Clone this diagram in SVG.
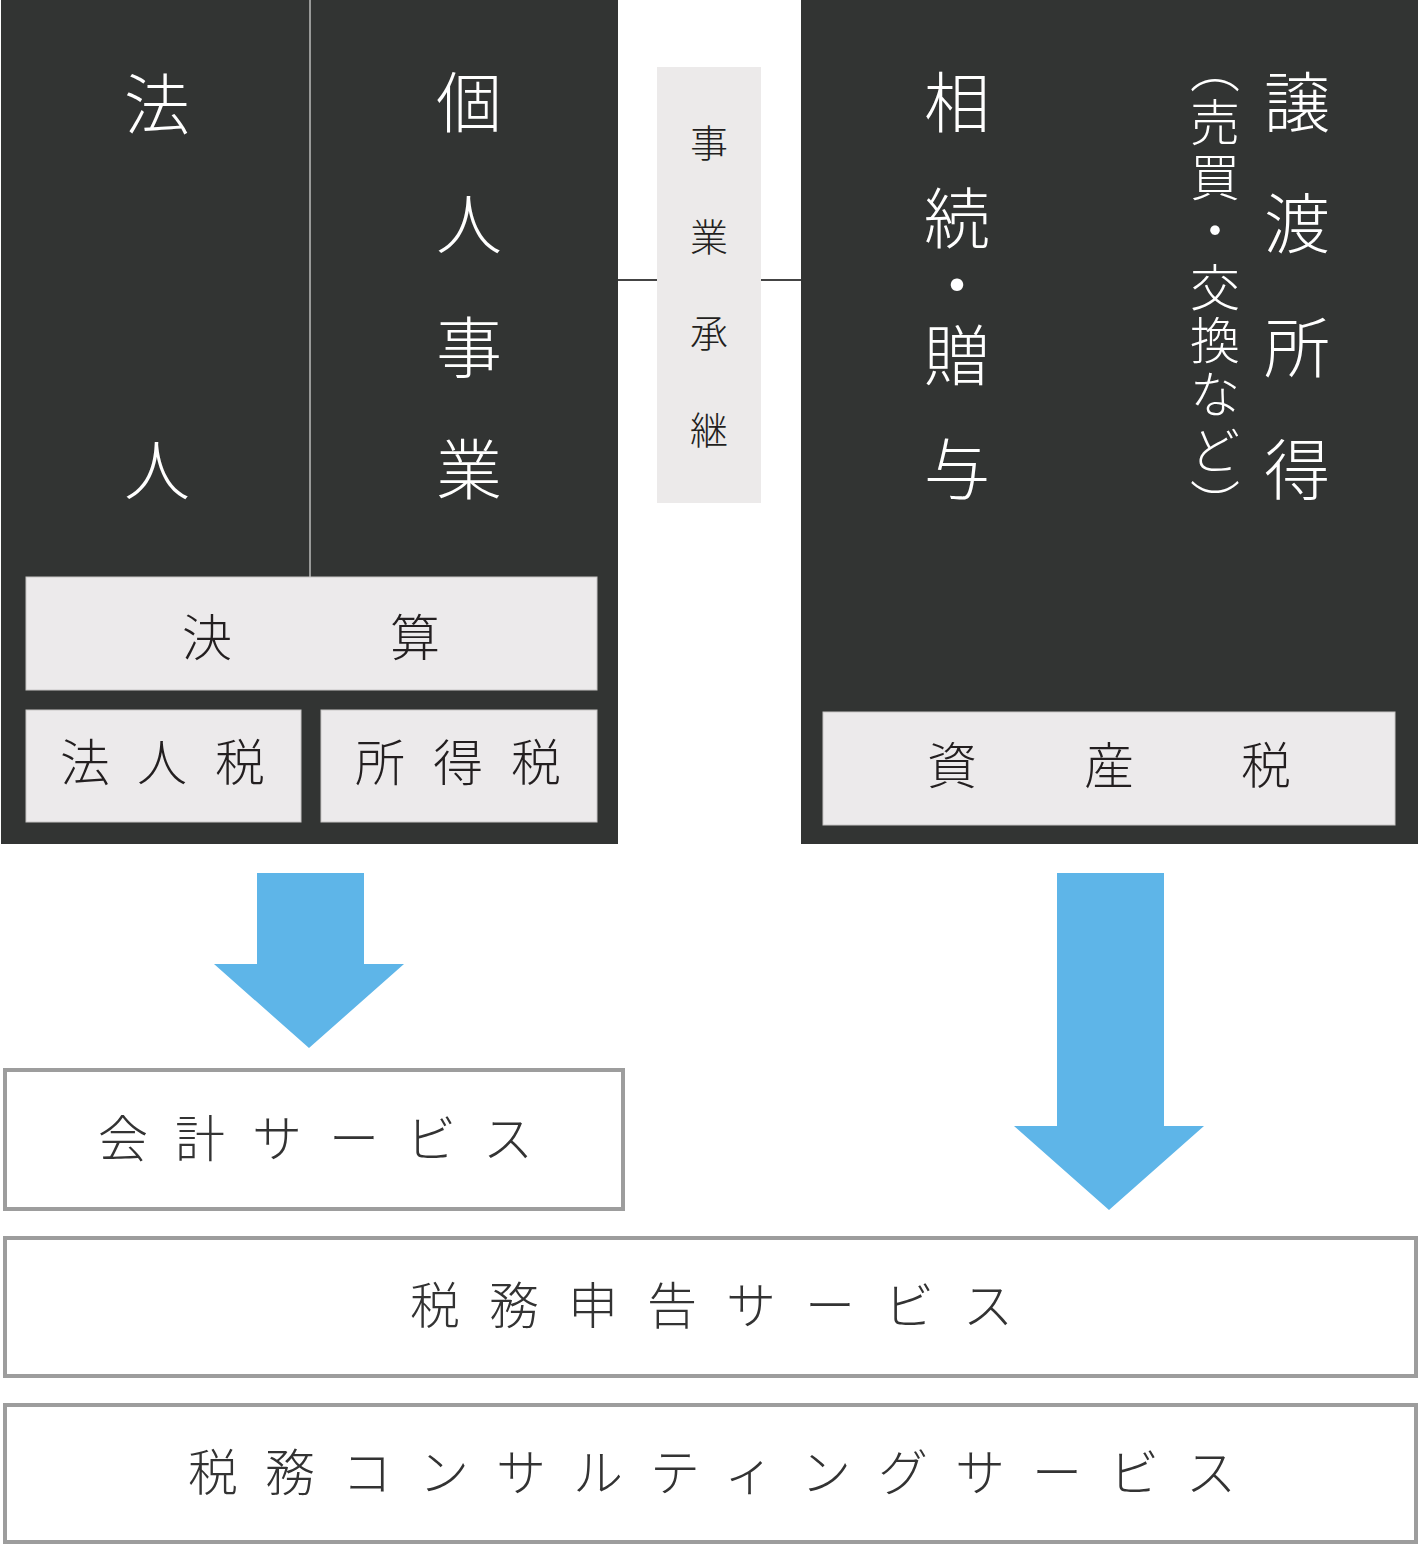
<svg xmlns="http://www.w3.org/2000/svg" width="1420" height="1546" viewBox="0 0 1420 1546">
<style>
text{font-family:"Noto Sans CJK JP","Noto Sans CJK SC",sans-serif;font-weight:300;text-anchor:middle}
.big{font-size:66px;fill:#ffffff}
.sub{font-size:50px;fill:#ffffff}
.lbl{font-size:50px;fill:#231f20}
.mid{font-size:38px;fill:#231f20}
.svc{font-size:50px;fill:#333333;text-anchor:start}
.dark{fill:#323433}
.light{fill:#eceaeb;stroke:#c8c6c6;stroke-width:1}
.svcbox{fill:#ffffff;stroke:#9d9d9d;stroke-width:4}
.arrow{fill:#5eb5e8}
</style>
<g id="connectors">
<line x1="618" y1="280" x2="658" y2="280" stroke="#444" stroke-width="2"/>
<line x1="760" y1="280" x2="802" y2="280" stroke="#444" stroke-width="2"/>
<polygon class="arrow" points="257,873 364,873 364,964 404,964 309,1048 214,964 257,964"/>
<polygon class="arrow" points="1057,873 1164,873 1164,1126 1204,1126 1109,1210 1014,1126 1057,1126"/>
</g>
<g id="left-block">
<rect class="dark" x="1" y="0" width="617" height="844"/>
<line x1="310" y1="0" x2="310" y2="577" stroke="#ffffff" stroke-width="1"/>
</g>
<g id="houjin">
<text class="big"><tspan x="157" y="129">法</tspan><tspan x="157" y="495">人</tspan></text>
</g>
<g id="kojin-jigyou">
<text class="big"><tspan x="469" y="127">個</tspan><tspan x="469" y="249">人</tspan><tspan x="469" y="372">事</tspan><tspan x="469" y="494">業</tspan></text>
</g>
<g id="kessan">
<rect class="light" x="26" y="577" width="571" height="113"/>
<text class="lbl"><tspan x="207" y="656">決</tspan><tspan x="415" y="656">算</tspan></text>
</g>
<g id="houjinzei">
<rect class="light" x="26" y="710" width="275" height="112"/>
<text class="lbl"><tspan x="85" y="781">法</tspan><tspan x="162" y="781">人</tspan><tspan x="240" y="781">税</tspan></text>
</g>
<g id="shotokuzei">
<rect class="light" x="321" y="710" width="276" height="112"/>
<text class="lbl"><tspan x="380" y="781">所</tspan><tspan x="458" y="781">得</tspan><tspan x="536" y="781">税</tspan></text>
</g>
<g id="jigyou-shoukei">
<rect x="657" y="67" width="104" height="436" fill="#eceaea"/>
<text class="mid"><tspan x="709" y="157">事</tspan><tspan x="709" y="251">業</tspan><tspan x="709" y="347">承</tspan><tspan x="709" y="444">継</tspan></text>
</g>
<g id="right-block">
<rect class="dark" x="801" y="0" width="617" height="844"/>
</g>
<g id="souzoku-zouyo">
<text class="big"><tspan x="957" y="127">相</tspan><tspan x="957" y="243">続</tspan><tspan x="957" y="310">・</tspan><tspan x="957" y="380">贈</tspan><tspan x="957" y="494">与</tspan></text>
</g>
<g id="jouto-shotoku">
<text class="big"><tspan x="1297" y="127">譲</tspan><tspan x="1297" y="248">渡</tspan><tspan x="1297" y="372">所</tspan><tspan x="1297" y="494">得</tspan></text>
<text class="sub"><tspan x="1215" y="87">︵</tspan><tspan x="1215" y="141">売</tspan><tspan x="1215" y="196">買</tspan><tspan x="1215" y="249">・</tspan><tspan x="1215" y="306">交</tspan><tspan x="1215" y="359">換</tspan><tspan x="1215" y="413">な</tspan><tspan x="1215" y="469">ど</tspan><tspan x="1215" y="523">︶</tspan></text>
</g>
<g id="shisanzei">
<rect class="light" x="823" y="712" width="572" height="113"/>
<text class="lbl"><tspan x="952" y="784">資</tspan><tspan x="1109" y="784">産</tspan><tspan x="1266" y="784">税</tspan></text>
</g>
<g id="kaikei-service">
<rect class="svcbox" x="5" y="1070" width="618" height="139"/>
<text class="svc" x="98" y="1157" letter-spacing="27">会計サービス</text>
</g>
<g id="zeimu-shinkoku-service">
<rect class="svcbox" x="5" y="1238" width="1411" height="138"/>
<text class="svc" x="410" y="1324" letter-spacing="29">税務申告サービス</text>
</g>
<g id="zeimu-consulting-service">
<rect class="svcbox" x="5" y="1405" width="1411" height="137"/>
<text class="svc" x="188" y="1491" letter-spacing="27">税務コンサルティングサービス</text>
</g>
</svg>
